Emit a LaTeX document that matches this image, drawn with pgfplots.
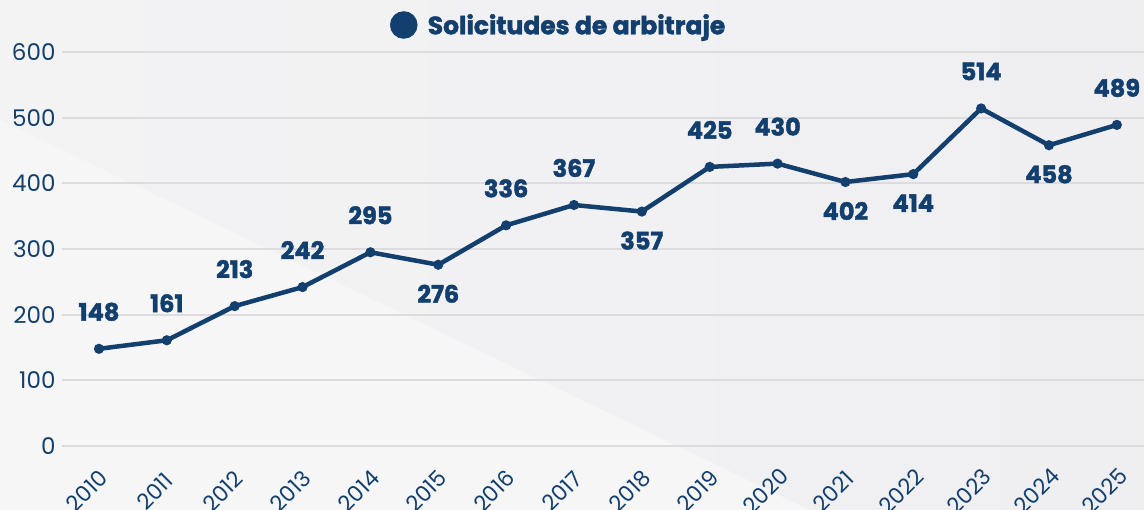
\documentclass[border=0pt]{standalone}
\usepackage{fontspec}
\setmainfont{Poppins}
\newfontfamily\heavy{Poppins}[BoldFeatures={FakeBold=1.8}]
\usepackage{pgfplots}
\pgfplotsset{compat=1.18}
\usepackage{pgfplotstable}
\definecolor{navy}{HTML}{123F6D}
\definecolor{gridc}{HTML}{DCDCDE}
\definecolor{bgl}{HTML}{F3F3F4}
\definecolor{bgr}{HTML}{EFEFF2}
\definecolor{bgw}{HTML}{F6F6F7}
\pgfplotstableread{
year val
2010 148
2011 161
2012 213
2013 242
2014 295
2015 276
2016 336
2017 367
2018 357
2019 425
2020 430
2021 402
2022 414
2023 514
2024 458
2025 489
}\alldata
\pgfplotstableread{
year val
2010 148
2011 161
2012 213
2013 242
2014 295
2016 336
2017 367
2019 425
2020 430
2023 514
2025 489
}\above
\pgfplotstableread{
year val
2015 276
2018 357
2021 402
2022 414
2024 458
}\below
\begin{document}
\begin{tikzpicture}[x=1pt,y=1pt]
\shade[left color=bgl, right color=bgr] (0,0) rectangle (1144,510);
\fill[bgw] (0,390) -- (810,0) -- (0,0) -- cycle;
\useasboundingbox (0,0) rectangle (1144,510);
\begin{axis}[
  at={(62pt,64pt)}, anchor=south west,
  scale only axis, width=1082pt, height=394pt,
  xmin=2009.455, xmax=2025.4, ymin=0, ymax=600,
  ytick={0,100,...,600},
  xtick={2010,...,2025},
  xticklabel={\pgfmathprintnumber[1000 sep={}]{\tick}},
  /pgf/number format/assume math mode=true,
  /pgf/number format/1000 sep={},
  axis line style={draw=none},
  major tick length=0pt,
  ymajorgrids, grid style={gridc, line width=1.8pt},
  yticklabel style={font=\fontsize{23}{27}\selectfont, text=navy, anchor=east, xshift=-3pt},
  xticklabel style={font=\fontsize{22}{26}\selectfont, text=navy, xshift=-12pt, yshift=-45pt, rotate=45, anchor=center},
  clip=false,
  legend style={at={(0.459,1)}, anchor=center, yshift=27pt, draw=none, fill=none,
    font=\fontsize{25}{29}\selectfont\heavy\bfseries, text=navy, inner sep=0pt},
  legend image code/.code={\fill[navy] (0pt,0pt) circle (11.5pt); \path[draw=none] (-11.5pt,0) -- (22pt,0);},
]
\addplot[navy, line width=4.5pt, mark=*, mark size=3.5pt, mark options={fill=navy, line width=3pt}] table[x=year,y=val]{\alldata};
\addlegendentry{Solicitudes de arbitraje}
\addplot[draw=none, nodes near coords, point meta=explicit symbolic,
  every node near coord/.style={font=\fontsize{24}{28}\selectfont\heavy\bfseries, text=navy, anchor=center, yshift=37pt},
  forget plot] table[x=year,y=val,meta=val]{\above};
\addplot[draw=none, nodes near coords, point meta=explicit symbolic,
  every node near coord/.style={font=\fontsize{24}{28}\selectfont\heavy\bfseries, text=navy, anchor=center, yshift=-29pt},
  forget plot] table[x=year,y=val,meta=val]{\below};
\end{axis}
\end{tikzpicture}
\end{document}
